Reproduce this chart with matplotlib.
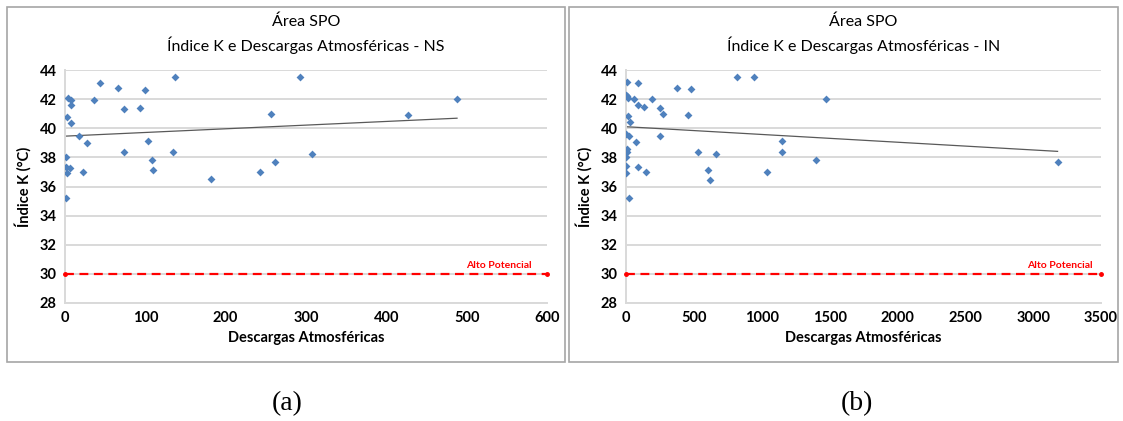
import numpy as np
import matplotlib
matplotlib.use("Agg")
import matplotlib.pyplot as plt
from matplotlib.patches import Rectangle

plt.rcParams['font.family'] = ['Lato', 'DejaVu Sans']

# panel (a): NS
ns_x = [1, 1, 1, 2, 6, 3, 4, 7.5, 7.5, 7, 17, 23, 28, 36, 44, 66, 73, 74, 93, 99,
        103, 108, 110, 134, 137, 182, 243, 257, 261, 292, 308, 427, 488]
ns_y = [35.2, 38.0, 37.35, 36.95, 37.3, 40.8, 42.05, 41.95, 41.6, 40.35, 39.45, 37.0,
        39.0, 41.95, 43.1, 42.75, 41.35, 38.4, 41.4, 42.65, 39.1, 37.85, 37.1, 38.4,
        43.5, 36.5, 37.0, 41.0, 37.65, 43.5, 38.2, 40.9, 42.0]

# panel (b): IN
in_x = [5, 85, 0, 10, 15, 59, 189, 85, 132, 250, 272, 456, 12, 32, 0, 19, 250, 76,
        7, 5, 532, 665, 2, 2, 85, 2, 144, 604, 618, 19, 373, 479, 817, 940,
        1477, 1151, 1149, 1401, 1038, 3180]
in_y = [43.15, 43.1, 42.3, 42.2, 42.1, 42.0, 42.0, 41.6, 41.45, 41.4, 41.0, 40.9,
        40.85, 40.4, 39.6, 39.5, 39.45, 39.05, 38.55, 38.35, 38.35, 38.2, 38.0, 37.4,
        37.35, 36.95, 37.0, 37.1, 36.45, 35.2, 42.75, 42.7, 43.5, 43.55,
        42.0, 39.1, 38.4, 37.8, 37.0, 37.65]

titles = ["Índice K e Descargas Atmosféricas - NS", "Índice K e Descargas Atmosféricas - IN"]
x_limits = [600, 3500]
x_steps = [100, 500]
label_x = [540, 3200]
letters = ["(a)", "(b)"]
threshold = 30

W, H = 1123, 421
fig = plt.figure(figsize=(W / 100, H / 100), dpi=100)

# panel borders (pixels -> figure fraction)
for x0, x1 in [(7, 565), (569, 1118)]:
    fig.patches.append(Rectangle((x0 / W, 1 - 362 / H), (x1 - x0) / W, 355 / H,
                                 transform=fig.transFigure, fill=False,
                                 edgecolor="#a6a6a6", lw=1.2))

axes_px = [(65, 547), (626, 1101)]
data = [(ns_x, ns_y), (in_x, in_y)]

for i, ((xl, xr), (xs, ys)) in enumerate(zip(axes_px, data)):
    ax = fig.add_axes([xl / W, 1 - 303 / H, (xr - xl) / W, 233 / H])
    xmax = x_limits[i]
    ax.set_xlim(0, xmax)
    ax.set_ylim(28, 44)
    ax.set_yticks(np.arange(28, 45, 2))
    ax.set_xticks(np.arange(0, xmax + 1, x_steps[i]))
    ax.grid(axis="y", color="#d9d9d9", lw=1.4)
    ax.set_axisbelow(True)
    for s in ["top", "right"]:
        ax.spines[s].set_visible(False)
    ax.spines["left"].set_color("#d9d9d9")
    ax.spines["bottom"].set_color("#d9d9d9")
    ax.spines["left"].set_linewidth(1.4)
    ax.spines["bottom"].set_linewidth(1.4)
    ax.tick_params(length=0, labelsize=10.5, pad=6)
    for lab in ax.get_xticklabels() + ax.get_yticklabels():
        lab.set_fontweight("bold")

    ax.scatter(xs, ys, marker="D", s=16, color="#4f81bd", zorder=3, linewidths=0)

    # linear trend (Excel-style)
    k, b = np.polyfit(xs, ys, 1)
    tx = np.array([0, max(xs)])
    ax.plot(tx, k * tx + b, color="#595959", lw=0.9, zorder=2)

    ax.plot([0, xmax], [threshold, threshold], color="red", ls=(0, (4, 2.5)), lw=1.6,
            marker="o", ms=2.5, clip_on=False, zorder=4)
    ax.text(label_x[i], threshold + 0.25, "Alto Potencial", color="red", fontsize=7.5,
            fontweight="bold", ha="center", va="bottom")

    ax.set_xlabel("Descargas Atmosféricas", fontsize=10.5, fontweight="bold", labelpad=4)
    ax.set_ylabel("Índice K (°C)", fontsize=10.5, fontweight="bold", labelpad=6)

    cx = (xl + xr) / 2 / W
    fig.text(cx, 1 - 22 / H, "Área SPO", ha="center", va="center", fontsize=11.5)
    fig.text(cx, 1 - 45 / H, titles[i], ha="center", va="center", fontsize=11.5)

    fig.text((287 if i == 0 else 857) / W, 1 - 404 / H, letters[i], ha="center",
             va="center", fontsize=20, family="Liberation Serif")

fig.savefig("out.png", dpi=100)
